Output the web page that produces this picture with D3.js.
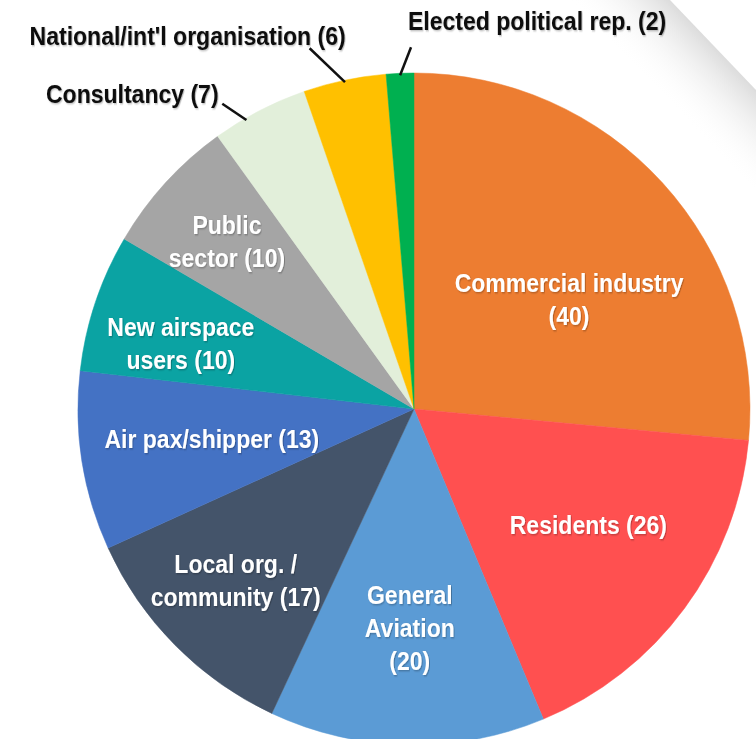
<!doctype html>
<html>
<head>
<meta charset="UTF-8">
<title>Respondents</title>
<script src="https://d3js.org/d3.v7.min.js"></script>
<style>
  body { margin: 0; background: #fff; }
  svg text { font-family: "Liberation Sans", Arial, sans-serif; font-weight: bold; }
</style>
</head>
<body>
<script>
// chart data
var categories = ["Commercial industry", "Residents", "General Aviation", "Local org. / community",
                  "Air pax/shipper", "New airspace users", "Public sector", "Consultancy",
                  "National/int'l organisation", "Elected political rep."];
var counts = [40, 26, 20, 17, 13, 10, 10, 7, 6, 2];
var labelLines = [
    ["Commercial industry", "(40)"],
    ["Residents (26)"],
    ["General", "Aviation", "(20)"],
    ["Local org. /", "community (17)"],
    ["Air pax/shipper (13)"],
    ["New airspace", "users (10)"],
    ["Public", "sector (10)"],
    ["Consultancy (7)"],
    ["National/int'l organisation (6)"],
    ["Elected political rep. (2)"]
];
var colors = ["#ED7D31", "#FF5050", "#5B9BD5", "#44546A", "#4472C4", "#0BA3A3", "#A5A5A5", "#E2EFDA", "#FFC000", "#00B050"];

var W = 756, H = 739;
var cx = 414, cy = 409, R = 336;

// label layout: radius fraction, nudge, inside/outside
var layout = [
    {rf: 0.6, dx: 6, dy: 26},
    {rf: 0.6, dx: 12, dy: -4},
    {rf: 0.6, dx: 0, dy: 17},
    {rf: 0.6, dx: -35, dy: 29},
    {rf: 0.6, dx: -3, dy: -2},
    {rf: 0.6, dx: -42, dy: -2},
    {rf: 0.6, dx: -38, dy: -32},
    {out: true, tx: -127, ty: -17, lx: -37, ly: -7, la: -2.7},
    {out: true, tx: -157, ty: -45, lx: -35, ly: -32, la: 0},
    {out: true, tx: 137, ty: -53, lx: 11, ly: -26, la: 0}
];

var svg = d3.select("body").append("svg")
    .attr("width", W).attr("height", H);

var defs = svg.append("defs");
var f = defs.append("filter").attr("id", "shadow").attr("x", "-10%").attr("y", "-20%").attr("width", "120%").attr("height", "140%");
f.append("feDropShadow").attr("dx", 1).attr("dy", 1).attr("stdDeviation", 0.8)
    .attr("flood-color", "#000").attr("flood-opacity", 0.3);

// faint page corner shading top right
var g = defs.append("linearGradient").attr("id", "corner")
    .attr("gradientUnits", "userSpaceOnUse")
    .attr("x1", 713).attr("y1", 45).attr("x2", 660).attr("y2", 96);
g.append("stop").attr("offset", 0).attr("stop-color", "#dcdcdc");
g.append("stop").attr("offset", 1).attr("stop-color", "#fff").attr("stop-opacity", 0);
svg.append("path")
    .attr("d", "M670,0 L756,90 L756,190 L570,0 Z")
    .attr("fill", "url(#corner)");

var pie = d3.pie().sort(null).value(function(d) { return d; });
var arcs = pie(counts);
var arc = d3.arc().innerRadius(0).outerRadius(R);

var chart = svg.append("g").attr("transform", "translate(" + cx + "," + cy + ")");

chart.selectAll("path.slice")
    .data(arcs)
    .enter().append("path")
    .attr("class", "slice")
    .attr("d", arc)
    .attr("fill", function(d, i) { return colors[i]; })
    .attr("stroke", function(d, i) { return colors[i]; })
    .attr("stroke-width", 0.5);

function polar(a, r) { return [r * Math.sin(a), -r * Math.cos(a)]; }

// narrow look: regular bold squeezed horizontally
var fs = 26, lh = 33, sx = 0.885;

arcs.forEach(function(d, i) {
    var L = layout[i];
    var mid = (d.startAngle + d.endAngle) / 2;
    var lines = labelLines[i];
    if (!L.out) {
        var p = polar(mid, R * L.rf);
        var x = p[0] + L.dx, y = p[1] + L.dy;
        var t = chart.append("text")
            .attr("transform", "translate(" + x + "," + y + ") scale(" + sx + ",1)")
            .attr("text-anchor", "middle")
            .attr("fill", "#fff")
            .attr("font-size", fs)
            .attr("filter", "url(#shadow)");
        lines.forEach(function(s, k) {
            t.append("tspan")
                .attr("x", 0)
                .attr("y", (k - (lines.length - 1) / 2) * lh + fs * 0.36)
                .text(s);
        });
    } else {
        var a = mid + L.la * Math.PI / 180;
        var e = polar(a, R - 2);
        var lead = polar(mid, R);
        chart.append("line")
            .attr("x1", e[0]).attr("y1", e[1])
            .attr("x2", lead[0] + L.lx).attr("y2", lead[1] + L.ly)
            .attr("stroke", "#111").attr("stroke-width", 2.5);
        chart.append("text")
            .attr("transform", "translate(" + (lead[0] + L.tx) + "," + (lead[1] + L.ty) + ") scale(" + sx + ",1)")
            .attr("text-anchor", "middle")
            .attr("fill", "#111")
            .attr("font-size", fs)
            .attr("filter", "url(#shadow)")
            .attr("y", fs * 0.36)
            .text(lines[0]);
    }
});
</script>
</body>
</html>
